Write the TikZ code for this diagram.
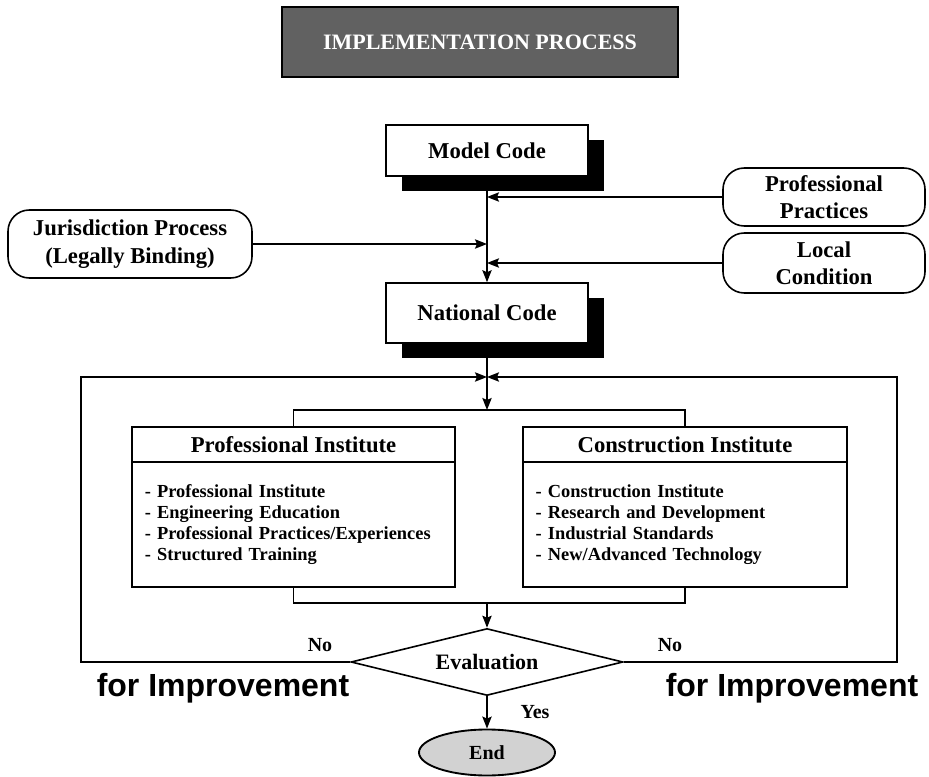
\documentclass[tikz,border=0pt]{standalone}
\usepackage{fontspec}
\setmainfont{Liberation Serif}
\newfontfamily\arialf{Liberation Sans}
\usetikzlibrary{arrows.meta,shapes.geometric,shadows,calc}
\begin{document}
\begin{tikzpicture}[x=0.75pt,y=-0.75pt,
  line width=1.1pt,
  arr/.style={-{Stealth[length=9pt,width=7pt,inset=1.5pt]}},
  shbox/.style={draw, fill=white, rectangle, line width=1.2pt, font=\bfseries\fontsize{17}{20}\selectfont,
    drop shadow={shadow xshift=12pt, shadow yshift=-11pt, fill=black, opacity=1}},
  rbox/.style={draw, fill=white, rounded corners=16pt, line width=1.2pt, align=center,
    font=\bfseries\fontsize{17}{20.5}\selectfont},
  hbox/.style={draw, fill=white, line width=1.2pt, font=\bfseries\fontsize{17}{20}\selectfont,
    minimum height=26.25pt, inner sep=0pt},
  bbox/.style={draw, fill=white, line width=1.2pt, font=\bfseries\fontsize{13.8}{15.75}\selectfont,
    align=left, minimum height=93.75pt, inner ysep=0pt, inner xsep=9.5pt},
  lbl/.style={font=\bfseries\fontsize{15}{17}\selectfont, inner sep=0pt},
  imp/.style={font=\arialf\bfseries\fontsize{24}{26}\selectfont, inner sep=0pt, anchor=base},
]
\useasboundingbox (0,0) rectangle (929,777);

% title banner
\node[draw=black, line width=1.5pt, fill=black!62, minimum width=297pt, minimum height=52.5pt, text=white,
  font=\bfseries\fontsize{16.5}{18}\selectfont] (title) at (480,42) {IMPLEMENTATION PROCESS};

% top part
\node[shbox, minimum width=151.5pt, minimum height=38.25pt] (mc) at (487,150.5) {Model Code};
\node[shbox, minimum width=151.5pt, minimum height=45pt] (nc) at (487,313) {National Code};
\node[rbox, minimum width=183pt, minimum height=51pt] (jp) at (130,244) {Jurisdiction Process\\(Legally Binding)};
\node[rbox, minimum width=151.5pt, minimum height=43.5pt] (pp) at (824,197) {Professional\\Practices};
\node[rbox, minimum width=151.5pt, minimum height=45pt] (lc) at (824,263) {Local\\Condition};

% institutes
\node[hbox, minimum width=242.25pt] (pih) at (293.5,444.5) {Professional Institute};
\node[bbox, text width=223pt] (pib) at (293.5,524.5)
  {- Professional Institute\\- Engineering Education\\- Professional Practices/Experiences\\- Structured Training};
\node[hbox, minimum width=243pt] (cih) at (685,444.5) {Construction Institute};
\node[bbox, text width=224pt] (cib) at (685,524.5)
  {- Construction Institute\\- Research and Development\\- Industrial Standards\\- New/Advanced Technology};

% evaluation and end
\node[draw, diamond, aspect=4, minimum width=204pt, minimum height=50.25pt, inner sep=0pt,
  line width=1.2pt, font=\bfseries\fontsize{16.5}{18}\selectfont] (ev) at (487,662) {Evaluation};
\node[draw, ellipse, fill=gray!35, minimum width=102pt, minimum height=34.5pt, line width=1.4pt,
  font=\bfseries\fontsize{15}{17}\selectfont, inner sep=0pt] (end) at (487,752.5) {End};

% helper coordinates
\coordinate (topbr) at (487,410);
\coordinate (botbr) at (487,603);
\coordinate (cross) at (487,377);
\coordinate (lb) at (81,662);
\coordinate (lt) at (81,377);
\coordinate (rb) at (897,662);
\coordinate (rt) at (897,377);

% connectors
\draw[arr] (mc.south) -- (nc.north);
\draw[arr] (pp.west) -- (pp.west -| mc.south);
\draw[arr] (lc.west) -- (lc.west -| mc.south);
\draw[arr] (jp.east) -- (jp.east -| mc.south);
\draw[arr] (nc.south) -- (topbr);
\draw (pih.north) |- (topbr) -| (cih.north);
\draw (pib.south) |- (botbr) -| (cib.south);
\draw[arr] (botbr) -- (ev.north);
\draw[arr] (ev.west) -- (lb) -- (lt) -- (cross);
\draw[arr] (ev.east) -- (rb) -- (rt) -- (cross);
\draw[arr] (ev.south) -- (end.north);

% labels
\node[lbl] (nol) at (320,645) {No};
\node[lbl] (nor) at (670,645) {No};
\node[imp] (fil) at (223,696) {for Improvement};
\node[imp] (fir) at (792,696) {for Improvement};
\node[lbl] (yes) at (535,712) {Yes};
\end{tikzpicture}
\end{document}
